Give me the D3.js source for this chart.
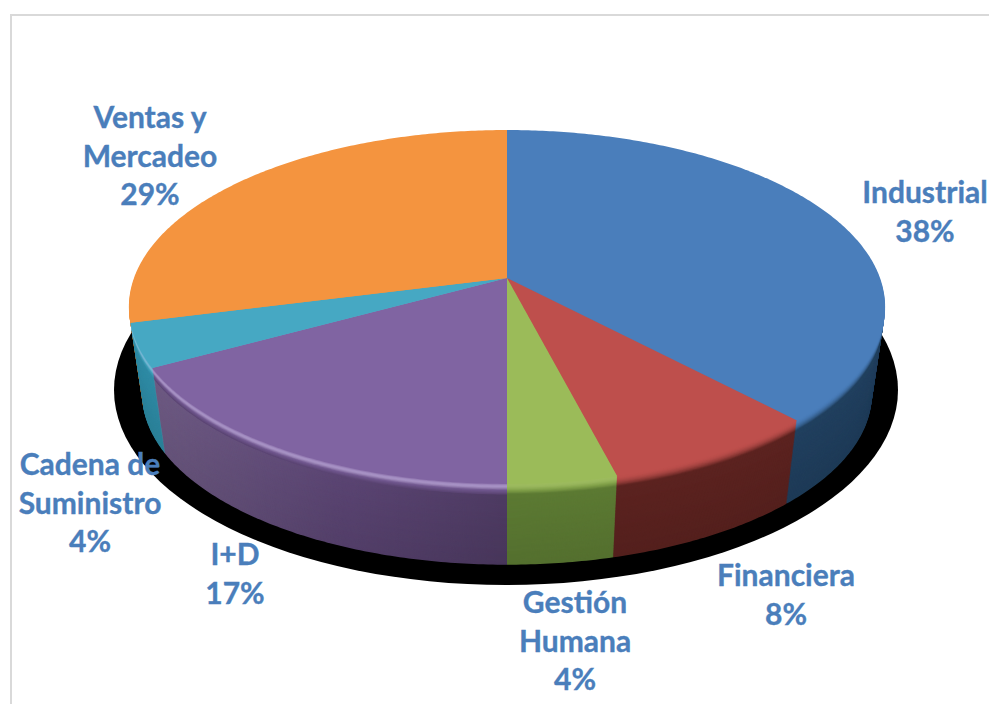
<!DOCTYPE html>
<html lang="es">
<head>
<meta charset="utf-8">
<title>Distribución por área</title>
<script src="https://cdnjs.cloudflare.com/ajax/libs/d3/7.9.0/d3.min.js"></script>
<style>
  html, body { margin: 0; padding: 0; background: #fff; }
  svg { display: block; }
  text { font-family: Lato, "Noto Sans", sans-serif; font-weight: 700; font-size: 30px; fill: #4a7ebb; stroke: #4a7ebb; stroke-width: 0.35px; text-anchor: middle; }
</style>
</head>
<body>
<svg id="chart" width="989" height="704"></svg>
<script>
// Chart values, clockwise from twelve o'clock
const categories = ["Industrial", "Financiera", "Gestión Humana", "I+D", "Cadena de Suministro", "Ventas y Mercadeo"];
const percentages = [38, 8, 4, 17, 4, 29];

// Label wrapping, one entry per category
const labelLines = [["Industrial"], ["Financiera"], ["Gestión", "Humana"], ["I+D"], ["Cadena de", "Suministro"], ["Ventas y", "Mercadeo"]];

// Styling per slice: top face, side wall, rim highlight strength
const topColors = ["#4a7ebb", "#be4f4c", "#9bbb59", "#8064a2", "#46a8c3", "#f4943f"];
const wallColors = ["#21405f", "#5c2320", "#5c7a33", "#5a4472", "#2f8ba5", "#a8621f"];
const rimGlow = [0, 0, 0.05, 0.45, 0.35, 0];

// Placement of each label's first line
const labelX = [925, 786, 575, 235, 90, 150];
const labelY = [192, 575, 602, 554, 464, 117];
const lineStep = 38.7;

// Perspective of the disc: centre, half width, half depth, foreshortening
const cx = 507, cy = 278, A = 373, B = 172.2, k = -0.1638;
const thickness = 88, taper = 0.035, bevel = 0.13;

function project(angle, z) {
  const X = Math.sin(angle), Y = -Math.cos(angle);
  const w = 1 + k * Y, s = 1 - taper * z;
  return [cx + s * A * X / w, cy + thickness * z + s * B * Y / w];
}

function rimPoints(d, z) {
  const n = Math.max(2, Math.ceil((d.endAngle - d.startAngle) * 90));
  return d3.range(n + 1).map(i => project(d.startAngle + (d.endAngle - d.startAngle) * i / n, z));
}

const line = d3.line();
function slicePath(d, z) {
  return line([[cx, cy + thickness * z], ...rimPoints(d, z)]) + "Z";
}

const svg = d3.select("#chart");

// Light falls from the left along the long wall of the I+D slice
const wallLight = svg.append("defs").append("linearGradient")
  .attr("id", "wall-light")
  .attr("gradientUnits", "userSpaceOnUse")
  .attr("x1", 150).attr("x2", 507).attr("y1", 0).attr("y2", 0);
wallLight.append("stop").attr("offset", 0).attr("stop-color", "#fff").attr("stop-opacity", 0.12);
wallLight.append("stop").attr("offset", 0.55).attr("stop-color", "#fff").attr("stop-opacity", 0);
wallLight.append("stop").attr("offset", 0.56).attr("stop-color", "#000").attr("stop-opacity", 0);
wallLight.append("stop").attr("offset", 1).attr("stop-color", "#000").attr("stop-opacity", 0.14);

// Thin grey frame, open past the right and bottom edges of the page
svg.append("rect")
  .attr("x", 11).attr("y", 15).attr("width", 1100).attr("height", 1100)
  .attr("fill", "#fff").attr("stroke", "#d9d9d9").attr("stroke-width", 2);

// Hard black shadow under the disc
svg.append("ellipse")
  .attr("cx", 506).attr("cy", 390).attr("rx", 392).attr("ry", 195)
  .attr("fill", "#000");

const slices = d3.pie().sort(null).value(d => d)(percentages);

// Colour of a slice at height z: flat top, short bevel with highlight, then the wall
function shade(i, z) {
  const top = topColors[i], wall = wallColors[i];
  if (z >= bevel) return d3.interpolateRgb(wall, d3.rgb(wall).darker(0.25))((z - bevel) / (1 - bevel));
  const t = z / bevel;
  const lit = d3.interpolateRgb(top, "#e8dcff")(rimGlow[i] * Math.sin(Math.PI * Math.min(1, t * 1.6)));
  return d3.interpolateRgb(lit, wall)(t * t);
}

// The wall is built by stacking 1px layers from the bottom of the disc upward
const layers = d3.range(thickness, -1, -1).map(h => h / thickness);
const stack = svg.append("g");
stack.selectAll("g")
  .data(layers)
  .join("g")
  .selectAll("path")
  .data(z => slices.map(s => ({ s, z })))
  .join("path")
  .attr("d", d => slicePath(d.s, d.z))
  .attr("fill", d => shade(d.s.index, d.z));

// Wall lighting on the I+D slice only
stack.append("path")
  .datum(slices[3])
  .attr("d", d => line([...rimPoints(d, bevel), ...rimPoints(d, 1).reverse()]) + "Z")
  .attr("fill", "url(#wall-light)");

// Data labels: wrapped category name followed by the percentage
const labels = svg.append("g").selectAll("text")
  .data(slices)
  .join("text")
  .attr("transform", d => `translate(${labelX[d.index]},${labelY[d.index]})`);
labels.selectAll("tspan")
  .data(d => [...labelLines[d.index], d3.format("d")(percentages[d.index]) + "%"])
  .join("tspan")
  .attr("x", 0)
  .attr("y", (d, i) => i * lineStep)
  .attr("dy", "0.36em")
  .text(d => d);
</script>
</body>
</html>
